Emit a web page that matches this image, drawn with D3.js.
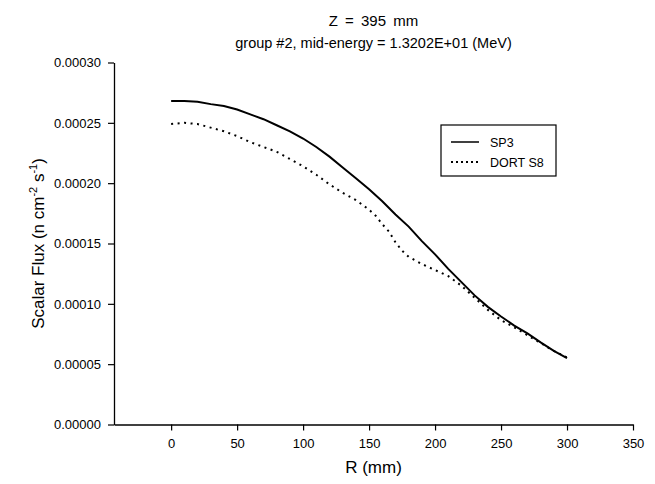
<!DOCTYPE html>
<html><head><meta charset="utf-8">
<script src="https://cdn.jsdelivr.net/npm/d3@7"></script>
<style>
body{margin:0;background:#fff;}
text{font-family:"Liberation Sans",Arial,sans-serif;fill:#000;}
</style></head>
<body><svg id="c" width="655" height="484"></svg>
<script>
const titleLines = ["Z = 395 mm", "group #2, mid-energy = 1.3202E+01 (MeV)"];
const xLabel = "R (mm)";
const seriesNames = ["SP3", "DORT S8"];
const xTicks = [0, 50, 100, 150, 200, 250, 300, 350];
const yTicks = [0, 0.00005, 0.0001, 0.00015, 0.0002, 0.00025, 0.0003];

const sp3R = [0,10,20,30,40,50,60,70,80,90,100,110,120,130,140,150,160,170,180,190,200,210,220,230,240,250,260,270,280,290,300];
const sp3Flux = [0.000268,0.000268,0.0002675,0.0002655,0.000264,0.000261,0.000257,0.000253,0.000248,0.000243,0.000237,0.000230,0.000222,0.000213,0.000204,0.000195,0.000185,0.000174,0.000164,0.000152,0.000141,0.000129,0.000118,0.000107,0.0000975,0.0000895,0.000082,0.0000755,0.000068,0.000061,0.000055];

const dortR = [0,10,20,30,40,50,60,70,80,90,100,110,120,130,140,150,155,160,165,170,175,180,190,200,210,220,230,240,250,260,270,280,290,300];
const dortFlux = [0.000249,0.00025,0.000249,0.000246,0.000243,0.000239,0.000234,0.00023,0.000226,0.00022,0.000214,0.000207,0.000199,0.000192,0.000186,0.000178,0.000173,0.000166,0.00016,0.000151,0.000144,0.000139,0.000133,0.000128,0.000123,0.000115,0.000105,0.000095,0.0000865,0.0000805,0.000074,0.0000675,0.000061,0.0000555];

const svg = d3.select("#c");
const L = 114, R = 633, T = 62.5, B = 424.5;
const x = d3.scaleLinear().domain([-43.3, 350]).range([L, R]);
const y = d3.scaleLinear().domain([0, 0.0003]).range([B, T]);

// axes
const xAxis = d3.axisBottom(x).tickValues(xTicks).tickSize(6).tickSizeOuter(0).tickFormat(d3.format("d"));
const gx = svg.append("g").attr("transform", `translate(0,${B})`).call(xAxis);
const yAxis = d3.axisLeft(y).tickValues(yTicks).tickSize(6).tickSizeOuter(0).tickFormat(d3.format(".5f"));
const gy = svg.append("g").attr("transform", `translate(${L},0)`).call(yAxis);
[gx, gy].forEach(g => {
  g.select(".domain").attr("stroke", "#000").attr("stroke-width", 1.3);
  g.selectAll(".tick line").attr("stroke", "#000").attr("stroke-width", 1.2);
  g.selectAll(".tick text").attr("font-size", 13).attr("font-family", "Liberation Sans, Arial, sans-serif").attr("fill", "#000");
});
gx.selectAll(".tick text").attr("y", 9).attr("dy", "1.1em");
gy.selectAll(".tick text").attr("x", -13);

// lines
const line = d3.line().x(d => x(d[0])).y(d => y(d[1]));
svg.append("path").datum(sp3R.map((r, i) => [r, sp3Flux[i]]))
  .attr("d", line).attr("fill", "none").attr("stroke", "#000").attr("stroke-width", 2);
svg.append("path").datum(dortR.map((r, i) => [r, dortFlux[i]]))
  .attr("d", line).attr("fill", "none").attr("stroke", "#000").attr("stroke-width", 2)
  .attr("stroke-dasharray", "2,4.5");

// titles
svg.append("text").attr("x", (L + R) / 2).attr("y", 26).attr("text-anchor", "middle").attr("font-size", 15)
  .attr("word-spacing", 3).text(titleLines[0]);
svg.append("text").attr("x", (L + R) / 2).attr("y", 48).attr("text-anchor", "middle").attr("font-size", 14.5).text(titleLines[1]);
svg.append("text").attr("x", (L + R) / 2).attr("y", 473).attr("text-anchor", "middle").attr("font-size", 17).text(xLabel);

const yl = svg.append("text").attr("transform", `translate(44,${(T + B) / 2}) rotate(-90)`)
  .attr("text-anchor", "middle").attr("font-size", 17);
yl.append("tspan").text("Scalar Flux (n cm");
yl.append("tspan").attr("font-size", 11).attr("dy", -7).text("-2");
yl.append("tspan").attr("dy", 7).text(" s");
yl.append("tspan").attr("font-size", 11).attr("dy", -7).text("-1");
yl.append("tspan").attr("dy", 7).text(")");

// legend
const lg = svg.append("g");
lg.append("rect").attr("x", 441).attr("y", 125).attr("width", 115).attr("height", 51)
  .attr("fill", "#fff").attr("stroke", "#000").attr("stroke-width", 1.2);
lg.append("line").attr("x1", 451).attr("x2", 479).attr("y1", 142).attr("y2", 142).attr("stroke", "#000").attr("stroke-width", 1.5);
lg.append("line").attr("x1", 451).attr("x2", 479).attr("y1", 162).attr("y2", 162).attr("stroke", "#000").attr("stroke-width", 2).attr("stroke-dasharray", "2,3");
lg.append("text").attr("x", 490).attr("y", 146.5).attr("font-size", 12.5).text(seriesNames[0]);
lg.append("text").attr("x", 490).attr("y", 166.5).attr("font-size", 12.5).text(seriesNames[1]);
</script></body></html>
